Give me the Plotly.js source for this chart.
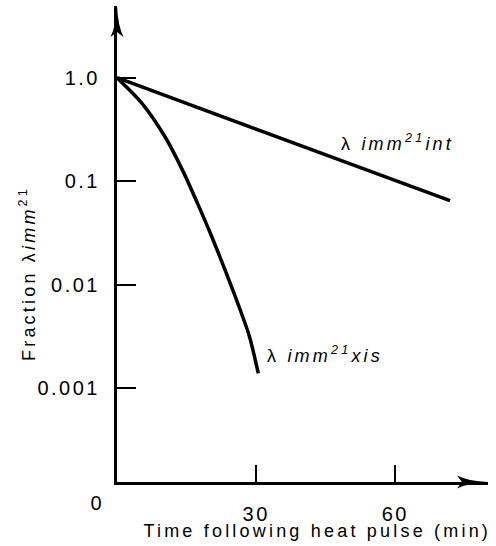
<!DOCTYPE html>
<html>
<head>
<meta charset="utf-8">
<script src="https://cdn.plot.ly/plotly-3.0.1.min.js"></script>
<style>
  html, body { margin: 0; padding: 0; background: #fff; }
  #plot { width: 496px; height: 546px; }
  #plot .xtick text, #plot .ytick text { letter-spacing: 2.5px; }
  #plot .annotation-text { letter-spacing: 3.2px; }
</style>
</head>
<body>
<div id="plot"></div>
<script>
// ---- data ----
const timeInt = [0, 71.8];
const fracInt = [1.0, 0.065];

const timeXis = [0, 5.39, 10.35, 14.12, 17.36, 20.44, 23.29, 26.05, 28.57, 30.47];
const fracXis = [1.0, 0.566, 0.269, 0.128, 0.0611, 0.0291, 0.0139, 0.0066, 0.00315, 0.00139];

const yTickVals = [1, 0.1, 0.01, 0.001];
const yTickText = ["1.0", "0.1", "0.01", "0.001"];
const xTickVals = [30, 60];
const xTickText = ["30", "60"];

const labelInt = "λ <i>imm<sup>21</sup>int</i>";
const labelXis = "λ <i>imm<sup>21</sup>xis</i>";
const xTitle = "Time following heat pulse (min)";
const yTitle = "Fraction λ<i>imm</i><sup>21</sup>";

// ---- chart ----
const FONT = "Liberation Sans, Arial, Helvetica, sans-serif";
const lineStyle = {color: "#000", width: 3.5};
const X_RANGE = [0, 80.0];
const Y_RANGE = [-3.906, 0.693];

const traces = [
  {x: timeInt, y: fracInt, mode: "lines", line: lineStyle, hoverinfo: "skip", showlegend: false},
  {x: timeXis, y: fracXis, mode: "lines", line: Object.assign({shape: "spline", smoothing: 0.8}, lineStyle), hoverinfo: "skip", showlegend: false},
  // empty trace so the overlay axes (inside tick marks) get drawn
  {x: [], y: [], xaxis: "x2", yaxis: "y2", mode: "lines", hoverinfo: "skip", showlegend: false}
];

const W = 496, H = 546, L = 117, R = 8, T = 6, B = 64;
const pw = W - L - R, ph = H - T - B;
const px = v => v / pw, py = v => v / ph;

// arrow heads (paper coordinates)
const upArrow = `M 0,1 Q ${px(1)},${1 - py(20)} ${px(6.5)},${1 - py(31)} L 0,${1 - py(26)} L ${-px(6.5)},${1 - py(31)} Q ${-px(1)},${1 - py(20)} 0,1 Z`;
const rightArrow = `M 1,0 Q ${1 - px(20)},${py(1)} ${1 - px(31)},${py(6.5)} L ${1 - px(26)},0 L ${1 - px(31)},${-py(6.5)} Q ${1 - px(20)},${-py(1)} 1,0 Z`;

const layout = {
  width: W, height: H,
  margin: {l: L, r: R, t: T, b: B, pad: 0},
  paper_bgcolor: "#fff", plot_bgcolor: "#fff",
  font: {family: FONT, size: 20, color: "#000"},
  showlegend: false,
  // label-carrying axes (transparent outside ticks only push labels away)
  xaxis: {
    range: X_RANGE,
    showgrid: false, zeroline: false,
    showline: true, linecolor: "#000", linewidth: 3,
    ticks: "outside", ticklen: 12, tickwidth: 1, tickcolor: "rgba(0,0,0,0)",
    tickvals: xTickVals, ticktext: xTickText,
    tickfont: {family: FONT, size: 20, color: "#000"}
  },
  yaxis: {
    type: "log",
    range: Y_RANGE,
    showgrid: false, zeroline: false,
    showline: true, linecolor: "#000", linewidth: 3,
    ticks: "outside", ticklen: 10, tickwidth: 1, tickcolor: "rgba(0,0,0,0)",
    tickvals: yTickVals, ticktext: yTickText,
    tickfont: {family: FONT, size: 20, color: "#000"}
  },
  // overlay axes carrying the visible inside tick marks
  xaxis2: {
    overlaying: "x", matches: "x", anchor: "y2", side: "bottom",
    range: X_RANGE,
    showgrid: false, zeroline: false, showline: false,
    ticks: "inside", ticklen: 17, tickwidth: 2, tickcolor: "#000",
    tickvals: xTickVals, showticklabels: false
  },
  yaxis2: {
    overlaying: "y", matches: "y", anchor: "x2", side: "left",
    type: "log",
    range: Y_RANGE,
    showgrid: false, zeroline: false, showline: false,
    ticks: "inside", ticklen: 19, tickwidth: 2, tickcolor: "#000",
    tickvals: yTickVals, showticklabels: false
  },
  shapes: [
    {type: "path", xref: "paper", yref: "paper", path: upArrow, fillcolor: "#000", line: {width: 0}},
    {type: "path", xref: "paper", yref: "paper", path: rightArrow, fillcolor: "#000", line: {width: 0}}
  ],
  annotations: [
    {text: labelInt, x: 60.5, y: Math.log10(0.239), xref: "x", yref: "y", xanchor: "center", yanchor: "middle", showarrow: false, font: {family: FONT, size: 18, color: "#000"}},
    {text: labelXis, x: 44.85, y: Math.log10(0.0021), xref: "x", yref: "y", xanchor: "center", yanchor: "middle", showarrow: false, font: {family: FONT, size: 18, color: "#000"}},
    {text: "0", x: px(97 - L), y: -py(503 - 482), xref: "paper", yref: "paper", xanchor: "center", yanchor: "middle", showarrow: false, font: {family: FONT, size: 20, color: "#000"}},
    {text: xTitle, x: px(317 - L), y: -py(531 - 482), xref: "paper", yref: "paper", xanchor: "center", yanchor: "middle", showarrow: false, font: {family: FONT, size: 18, color: "#000"}},
    {text: yTitle, x: px(27 - L), y: 1 - py(274 - T), xref: "paper", yref: "paper", xanchor: "center", yanchor: "middle", textangle: -90, showarrow: false, font: {family: FONT, size: 18, color: "#000"}}
  ]
};

Plotly.newPlot("plot", traces, layout, {staticPlot: true, displayModeBar: false});
</script>
</body>
</html>
